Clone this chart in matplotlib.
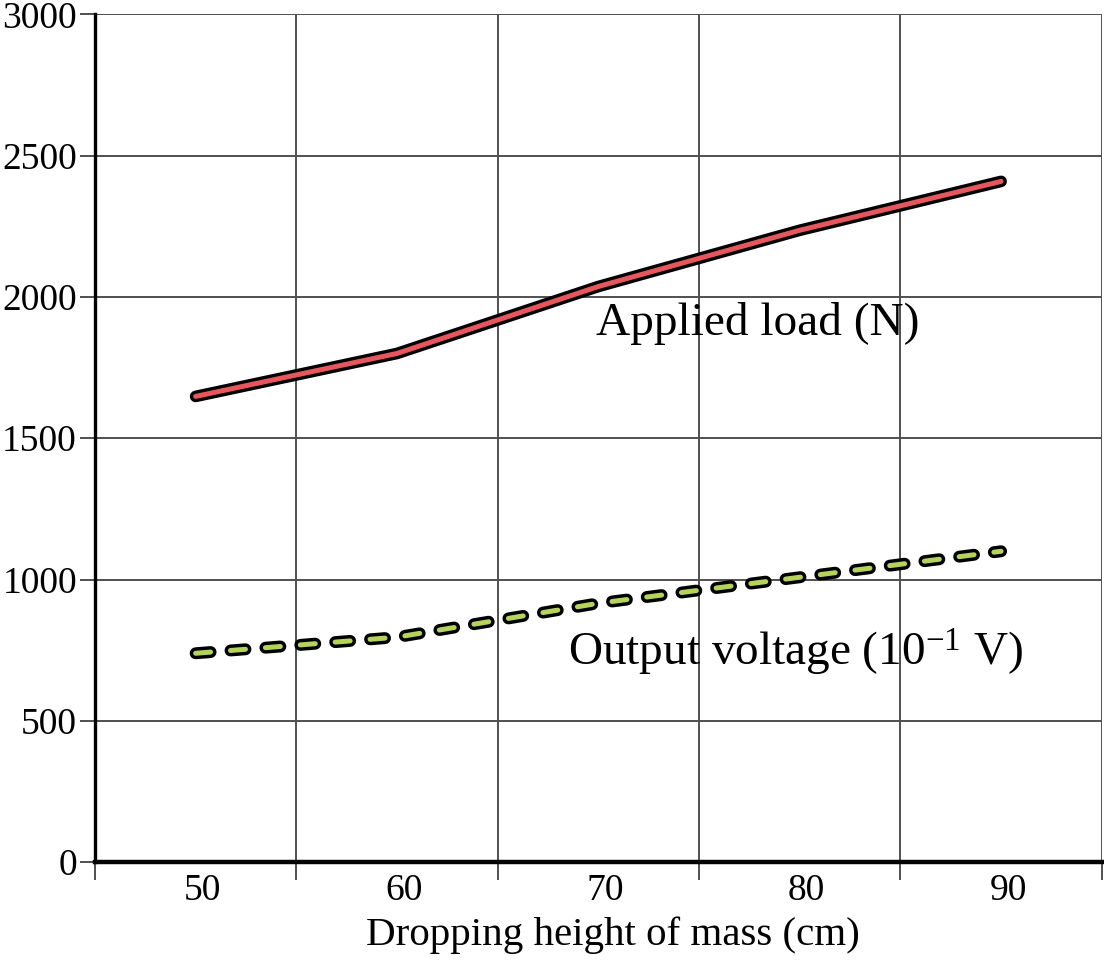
import matplotlib
matplotlib.use("Agg")
import matplotlib.pyplot as plt
import matplotlib.patheffects as pe
import matplotlib.transforms as mtransforms
from matplotlib.ticker import FixedLocator, NullFormatter, FixedFormatter

plt.rcParams['font.family'] = ['Liberation Serif', 'DejaVu Serif']
plt.rcParams['mathtext.fontset'] = 'custom'
plt.rcParams['mathtext.rm'] = 'Liberation Serif'
plt.rcParams['mathtext.it'] = 'Liberation Serif:italic'

heights = [50, 60, 70, 80, 90]
applied_load = [1648, 1800, 2037, 2236, 2409]
output_voltage = [739, 796, 916, 1008, 1100]
x_labels = ["50", "60", "70", "80", "90"]
y_ticks = [0, 500, 1000, 1500, 2000, 2500, 3000]

fig = plt.figure(figsize=(11.04, 9.6), dpi=100)
ax = fig.add_axes([0.086, 0.102, 0.912, 0.883])

ax.set_xlim(45, 95)
ax.set_ylim(0, 3000)

ax.xaxis.set_major_locator(FixedLocator([45, 55, 65, 75, 85, 95]))
ax.xaxis.set_major_formatter(NullFormatter())
ax.xaxis.set_minor_locator(FixedLocator(heights))
ax.xaxis.set_minor_formatter(FixedFormatter(x_labels))
ax.tick_params(axis='x', which='major', length=13, width=1.4, color='#505050', direction='out')
ax.tick_params(axis='x', which='minor', length=0, pad=8, labelsize=27)
ax.set_yticks(y_ticks)
ax.tick_params(axis='y', which='major', length=11, width=1.4, color='#505050', pad=2, labelsize=27)

offset = mtransforms.ScaledTranslation(7 / 100, 0, fig.dpi_scale_trans)
for lbl in ax.xaxis.get_minorticklabels():
    lbl.set_transform(lbl.get_transform() + offset)

ax.grid(True, which='major', color='#505050', linewidth=1.4)
ax.set_axisbelow(True)

for s in ['top', 'right']:
    ax.spines[s].set_visible(False)
ax.spines['left'].set_linewidth(2.4)
ax.spines['left'].set_color('black')
ax.spines['bottom'].set_linewidth(3.2)
ax.spines['bottom'].set_color('black')

ax.plot(heights, applied_load, color='#e5575c', linewidth=3.6,
        solid_capstyle='round', solid_joinstyle='round',
        path_effects=[pe.Stroke(linewidth=8.4, foreground='black'), pe.Normal()],
        zorder=3)

ax.plot(heights, output_voltage, color='#b5d35a', linewidth=3.6,
        linestyle=(0, (3.0, 4.0)), dash_capstyle='round', dash_joinstyle='round',
        path_effects=[pe.Stroke(linewidth=8.6, foreground='black'), pe.Normal()],
        zorder=3)

ax.text(69.9, 1905, "Applied load (N)", fontsize=34, ha='left', va='center')
ax.text(68.5, 743, r"Output voltage (10$^{-1}$ V)", fontsize=34, ha='left', va='center')

ax.set_xlabel("Dropping height of mass (cm)", fontsize=29.5)
ax.xaxis.set_label_coords(0.514, -0.064)

fig.savefig("out.png", dpi=100)
